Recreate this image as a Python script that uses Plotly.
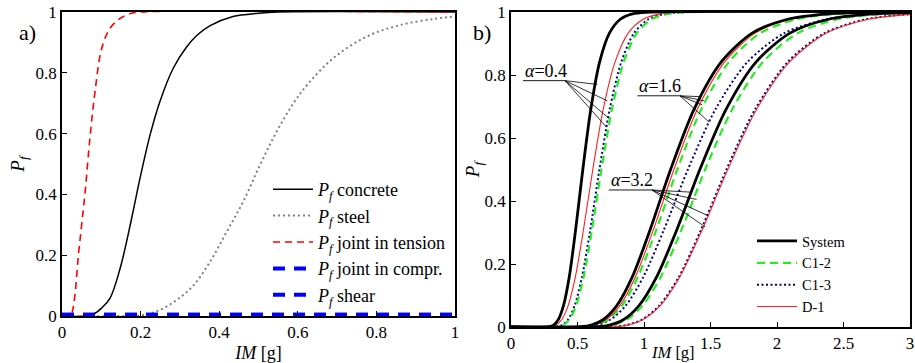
import plotly.graph_objects as go

FONT = "Liberation Serif, Times New Roman, serif"

# ---------------- Panel a) data (IM [g], Pf) ----------------
im_concrete = [0, 0.06, 0.084, 0.1, 0.122, 0.148, 0.177, 0.198, 0.224, 0.249, 0.283, 0.317, 0.345, 0.377, 0.435, 0.5, 0.55, 1.0]
p_concrete = [0, 0, 0.009, 0.025, 0.058, 0.157, 0.32, 0.45, 0.595, 0.705, 0.815, 0.885, 0.925, 0.955, 0.985, 0.996, 1.0, 1.0]

im_steel = [0, 0.15, 0.207, 0.249, 0.292, 0.334, 0.377, 0.419, 0.461, 0.504, 0.546, 0.589, 0.627, 0.69, 0.775, 0.86, 0.945, 1.0]
p_steel = [0, 0, 0.003, 0.02, 0.053, 0.1, 0.179, 0.277, 0.376, 0.497, 0.606, 0.70, 0.765, 0.848, 0.919, 0.957, 0.977, 0.985]

im_tension = [0, 0.02, 0.025, 0.033, 0.041, 0.05, 0.059, 0.071, 0.084, 0.101, 0.122, 0.148, 0.177, 0.2, 1.0]
p_tension = [0, 0, 0.009, 0.07, 0.19, 0.3, 0.41, 0.585, 0.738, 0.88, 0.946, 0.979, 0.996, 1.0, 1.0]

im_compr = [0, 1.0]
p_compr = [0.004, 0.004]
im_shear = [0, 1.0]
p_shear = [0.004, 0.004]

# ---------------- Panel b) data ----------------
# probability levels at which IM values were read for each curve
p_levels = [0.001, 0.006, 0.023, 0.067, 0.159, 0.309, 0.5, 0.691, 0.841, 0.933, 0.977, 0.994, 0.999]

sys_a04 = [0.288, 0.320, 0.355, 0.394, 0.438, 0.486, 0.54, 0.600, 0.666, 0.740, 0.822, 0.913, 1.014]
c12_a04 = [0.352, 0.392, 0.438, 0.489, 0.546, 0.609, 0.68, 0.759, 0.847, 0.946, 1.056, 1.178, 1.316]
c13_a04 = [0.344, 0.384, 0.428, 0.478, 0.534, 0.596, 0.665, 0.742, 0.829, 0.925, 1.033, 1.152, 1.287]
d1_a04 = [0.299, 0.338, 0.381, 0.429, 0.484, 0.545, 0.615, 0.693, 0.782, 0.881, 0.994, 1.120, 1.263]

sys_a16 = [0.526, 0.604, 0.692, 0.794, 0.912, 1.046, 1.2, 1.376, 1.580, 1.813, 2.080, 2.387, 2.738]
c12_a16 = [0.556, 0.636, 0.729, 0.834, 0.954, 1.093, 1.25, 1.43, 1.638, 1.874, 2.145, 2.454, 2.81]
c13_a16 = [0.557, 0.644, 0.745, 0.861, 0.995, 1.150, 1.33, 1.537, 1.777, 2.055, 2.375, 2.746, 3.175]
d1_a16 = [0.545, 0.624, 0.714, 0.817, 0.935, 1.071, 1.225, 1.401, 1.605, 1.836, 2.102, 2.405, 2.754]

sys_a32 = [0.650, 0.741, 0.845, 0.961, 1.095, 1.247, 1.42, 1.617, 1.842, 2.097, 2.388, 2.721, 3.097]
c12_a32 = [0.669, 0.762, 0.869, 0.988, 1.126, 1.282, 1.46, 1.663, 1.894, 2.156, 2.456, 2.797, 3.184]
c13_a32 = [0.765, 0.867, 0.983, 1.113, 1.262, 1.429, 1.62, 1.835, 2.080, 2.357, 2.671, 3.026, 3.42]
d1_a32 = [0.770, 0.873, 0.989, 1.120, 1.269, 1.438, 1.63, 1.847, 2.093, 2.372, 2.688, 3.045, 3.45]

x_ticks_a = [0, 0.2, 0.4, 0.6, 0.8, 1]
x_ticks_b = [0, 0.5, 1, 1.5, 2, 2.5, 3]
y_ticks = [0, 0.2, 0.4, 0.6, 0.8, 1]

# annotation callouts (label, underline start/end, target points on curves)
alpha_labels = ["0.4", "1.6", "3.2"]
alpha_hubs = [((0.09, 0.782), (0.406, 0.782)),
              ((0.95, 0.734), (1.27, 0.734)),
              ((0.735, 0.435), (1.06, 0.435))]
alpha_targets = [[(0.649, 0.770), (0.724, 0.718), (0.737, 0.662), (0.719, 0.634)],
                 [(1.434, 0.731), (1.451, 0.718), (1.438, 0.705), (1.491, 0.650)],
                 [(1.358, 0.428), (1.395, 0.405), (1.484, 0.353), (1.459, 0.318)]]

fig = go.Figure()

PF = "<i>P<sub>f</sub></i>"
IM_TITLE = "<i>IM</i> [g]"

# ---- panel a traces ----
left_series = [
    (im_concrete, p_concrete, PF + " concrete", "black", 1.5, "solid"),
    (im_steel, p_steel, PF + " steel", "#808080", 2, "2px,3px"),
    (im_tension, p_tension, PF + " joint in tension", "#ff0000", 1.6, "7px,5px"),
    (im_compr, p_compr, PF + " joint in compr.", "#0000ff", 4, "12px,9px"),
    (im_shear, p_shear, PF + " shear", "#0000ff", 4, "12px,9px"),
]
for x, y, name, col, w, dash in left_series:
    fig.add_trace(go.Scatter(x=x, y=y, mode="lines", name=name,
                             line=dict(color=col, width=w, dash=dash, shape="spline", smoothing=1.0),
                             xaxis="x", yaxis="y", legend="legend"))

# ---- panel b traces ----
def full_curve(xs):
    x = [0] + list(xs)
    y = [0] + list(p_levels)
    if xs[-1] < 3:
        x.append(3)
        y.append(1.0)
    return x, y

styles = {
    "System": dict(color="black", width=2.8, dash="solid"),
    "C1-2": dict(color="#22ee22", width=2.2, dash="8px,5px"),
    "C1-3": dict(color="#00008b", width=2, dash="2px,2.5px"),
    "D-1": dict(color="#ff2020", width=1.1, dash="solid"),
}
groups = [
    (sys_a04, c12_a04, c13_a04, d1_a04),
    (sys_a16, c12_a16, c13_a16, d1_a16),
    (sys_a32, c12_a32, c13_a32, d1_a32),
]
names = ["System", "C1-2", "C1-3", "D-1"]
draw_order = ["C1-3", "C1-2", "D-1", "System"]
for gi, grp in enumerate(groups):
    data = dict(zip(names, grp))
    for nm in draw_order:
        x, y = full_curve(data[nm])
        fig.add_trace(go.Scatter(x=x, y=y, mode="lines", name=nm,
                                 line=dict(shape="spline", smoothing=0.8, **styles[nm]),
                                 xaxis="x2", yaxis="y2", legend="legend2",
                                 legendgroup=nm, showlegend=(gi == 0),
                                 legendrank={"System": 1, "C1-2": 2, "C1-3": 3, "D-1": 4}[nm]))

# ---- callouts ----
shapes = []
annotations = []
for lab, (p0, p1), tg in zip(alpha_labels, alpha_hubs, alpha_targets):
    shapes.append(dict(type="line", xref="x2", yref="y2", x0=p0[0], y0=p0[1], x1=p1[0], y1=p1[1],
                       line=dict(color="black", width=0.9)))
    for tx, ty in tg:
        shapes.append(dict(type="line", xref="x2", yref="y2", x0=p1[0], y0=p1[1], x1=tx, y1=ty,
                           line=dict(color="black", width=0.8)))
    annotations.append(dict(x=p0[0], y=p0[1], xref="x2", yref="y2", xanchor="left", yanchor="bottom",
                            text="<i>α</i>=" + lab, showarrow=False, yshift=-2,
                            font=dict(family=FONT, size=18, color="black")))

annotations.append(dict(x=27 / 915, y=1 - 32 / 363, xref="paper", yref="paper", text="a)",
                        xanchor="center", yanchor="middle",
                        showarrow=False, font=dict(family=FONT, size=22, color="black")))
annotations.append(dict(x=482 / 915, y=1 - 32 / 363, xref="paper", yref="paper", text="b)",
                        xanchor="center", yanchor="middle",
                        showarrow=False, font=dict(family=FONT, size=22, color="black")))
# x-axis title of panel b (sits between the "1" and "1.5" tick labels, as in the original)
annotations.append(dict(x=673 / 915, y=0, xref="paper", yref="paper", text=IM_TITLE,
                        xanchor="center", yanchor="bottom", yshift=-1,
                        showarrow=False, font=dict(family=FONT, size=16.5, color="black")))

axis_common = dict(showline=True, linecolor="black", linewidth=1.5, mirror=True,
                   ticks="inside", ticklen=5, tickwidth=1, tickcolor="black",
                   showgrid=False, zeroline=False, automargin=False,
                   tickfont=dict(family=FONT, size=17, color="black"))

fig.update_layout(
    width=915, height=363,
    margin=dict(l=0, r=0, t=0, b=0),
    paper_bgcolor="white", plot_bgcolor="white",
    font=dict(family=FONT, color="black"),
    xaxis=dict(domain=[62 / 915, 455 / 915], range=[0, 1], tickvals=x_ticks_a,
               ticktext=[str(v) for v in x_ticks_a], anchor="y",
               title=dict(text=IM_TITLE, font=dict(family=FONT, size=18), standoff=10), **axis_common),
    yaxis=dict(domain=[(363 - 316) / 363, (363 - 12) / 363], range=[0, 1], tickvals=y_ticks,
               ticktext=[str(v) for v in y_ticks], anchor="x",
               title=dict(text=PF, font=dict(family=FONT, size=19), standoff=6), **axis_common),
    xaxis2=dict(domain=[511 / 915, 910 / 915], range=[0, 3], tickvals=x_ticks_b,
                ticktext=[str(v) for v in x_ticks_b], anchor="y2", **axis_common),
    yaxis2=dict(domain=[(363 - 327) / 363, (363 - 12) / 363], range=[0, 1], tickvals=y_ticks,
                ticktext=[str(v) for v in y_ticks], anchor="x2",
                title=dict(text=PF, font=dict(family=FONT, size=19), standoff=0), **axis_common),
    legend=dict(x=268 / 915, y=1 - 171 / 363, xanchor="left", yanchor="top",
                bgcolor="rgba(0,0,0,0)", borderwidth=0, itemwidth=40,
                font=dict(family=FONT, size=18, color="black")),
    legend2=dict(x=752 / 915, y=1 - 225 / 363, xanchor="left", yanchor="top",
                 bgcolor="rgba(0,0,0,0)", borderwidth=0, traceorder="normal", itemwidth=40,
                 font=dict(family=FONT, size=14.5, color="black")),
    shapes=shapes,
    annotations=annotations,
)

fig.write_html("out.html")
